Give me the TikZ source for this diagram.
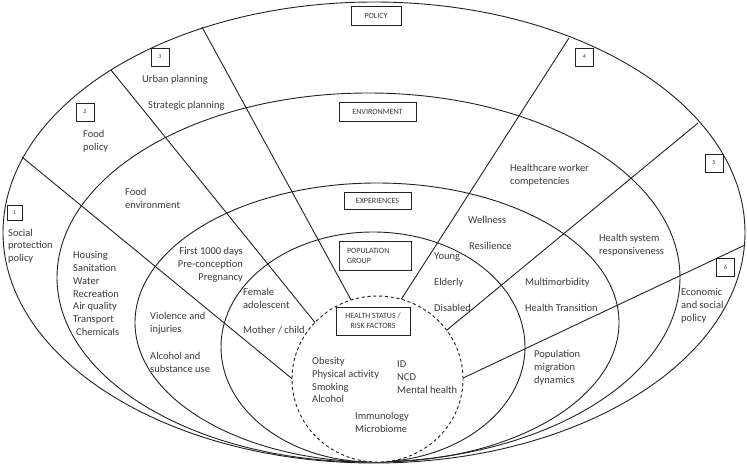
\documentclass[tikz,border=0pt]{standalone}
\usepackage{fontspec}
\setmainfont{Carlito}
\definecolor{ink}{HTML}{222222}
\definecolor{txt}{HTML}{3A3A3A}
\begin{document}
\begin{tikzpicture}[x=1pt,y=-1pt,
  ring/.style={draw=ink, line width=0.9pt},
  spoke/.style={draw=ink, line width=0.9pt},
  lbl/.style={font=\fontsize{10.5}{12.8}\selectfont, text=txt, inner sep=0pt, align=left, anchor=west},
  tag/.style={draw=ink, line width=0.8pt, font=\fontsize{8}{10}\selectfont, text=txt, inner sep=0pt, align=center},
  num/.style={draw=ink, line width=0.8pt, font=\fontsize{6}{7}\selectfont, text=txt, inner sep=0pt, minimum size=18pt}]
\useasboundingbox[fill=white] (0,0) rectangle (747,467);

% rings
\draw[ring] (374,232.5) ellipse [x radius=371pt, y radius=230.5pt];
\draw[ring] (368.5,277.5) ellipse [x radius=311.5pt, y radius=184.5pt];
\draw[ring] (377,322.5) ellipse [x radius=242pt, y radius=139.5pt];
\draw[ring] (373,347) ellipse [x radius=152pt, y radius=115pt];

% spokes
\coordinate (o1) at (22,157);   \coordinate (i1) at (294.6,380.8);
\coordinate (o2) at (111,70);   \coordinate (i2) at (316.8,324.7);
\coordinate (o3) at (202,27);   \coordinate (i3) at (352.9,303.3);
\coordinate (o4) at (569,38);   \coordinate (i4) at (400.8,300);
\coordinate (o5) at (698,123);  \coordinate (i5) at (442.4,333.8);
\coordinate (o6) at (745,245);  \coordinate (i6) at (457.6,380.6);
\foreach \k in {1,...,6} \draw[spoke] (o\k) -- (i\k);

% health status core
\fill[white] (377.5,379) ellipse [x radius=85.5pt, y radius=83pt];
\draw[ink, line width=0.9pt, dash pattern=on 3.2pt off 2.6pt] (377.5,379) ellipse [x radius=85.5pt, y radius=83pt];

% ring tags
\node[tag, minimum width=50pt, minimum height=19pt] (tpolicy) at (376,15.5) {POLICY};
\node[tag, minimum width=77pt, minimum height=19pt] (tenv) at (377.5,111.5) {ENVIRONMENT};
\node[tag, minimum width=67pt, minimum height=17pt] (texp) at (377.5,200.5) {EXPERIENCES};
\node[tag, align=left, text width=56pt, inner xsep=8pt, minimum height=29pt] (tpop) at (375,255.5) {POPULATION\\GROUP};
\node[tag, minimum width=74pt, minimum height=28pt] (thealth) at (373,321) {HEALTH STATUS /\\RISK FACTORS};

% numbered tags
\node[num, minimum size=15pt] (n1) at (14.5,212.5) {1};
\node[num] (n2) at (85,112) {2};
\node[num] (n3) at (160,57) {3};
\node[num] (n4) at (584.5,57) {4};
\node[num] (n5) at (714,163) {5};
\node[num] (n6) at (725.5,267.5) {6};

% labels
\node[lbl] (social) at (8,246) {Social\\protection\\policy};
\node[lbl] (foodpol) at (83,141.5) {Food\\policy};
\node[lbl] (urban) at (142,80) {Urban planning};
\node[lbl] (strat) at (148,106) {Strategic planning};
\node[lbl] (foodenv) at (125,198) {Food\\environment};
\node[lbl] (housing) at (73,293.5) {Housing\\Sanitation\\Water\\Recreation\\Air quality\\Transport\\\hspace{3pt}Chemicals};
\node[lbl, align=right, anchor=east] (first) at (243,265) {First 1000 days\\Pre-conception\\Pregnancy};
\node[lbl] (female) at (243,298) {Female\\adolescent};
\node[lbl] (mother) at (243,330) {Mother / child};
\node[lbl] (violence) at (150,323.5) {Violence and\\injuries};
\node[lbl] (alcsub) at (150,362) {Alcohol and\\substance use};
\node[lbl] (obesity) at (312,380) {Obesity\\Physical activity\\Smoking\\Alcohol};
\node[lbl] (idncd) at (397,377) {ID\\NCD\\Mental health};
\node[lbl] (immuno) at (355,422.5) {Immunology\\Microbiome};
\node[lbl] (hcw) at (510,175) {Healthcare worker\\competencies};
\node[lbl] (wellness) at (468,220) {Wellness};
\node[lbl] (resil) at (469,246) {Resilience};
\node[lbl] (young) at (434,257) {Young};
\node[lbl] (elderly) at (434,283) {Elderly};
\node[lbl] (disabled) at (434,308) {Disabled};
\node[lbl] (hsr) at (599,245.5) {Health system\\responsiveness};
\node[lbl] (multi) at (525,283) {Multimorbidity};
\node[lbl] (htrans) at (525,308) {Health Transition};
\node[lbl] (popmig) at (534,367.5) {Population\\migration\\dynamics};
\node[lbl] (econ) at (681,306) {Economic\\and social\\policy};
\end{tikzpicture}
\end{document}
